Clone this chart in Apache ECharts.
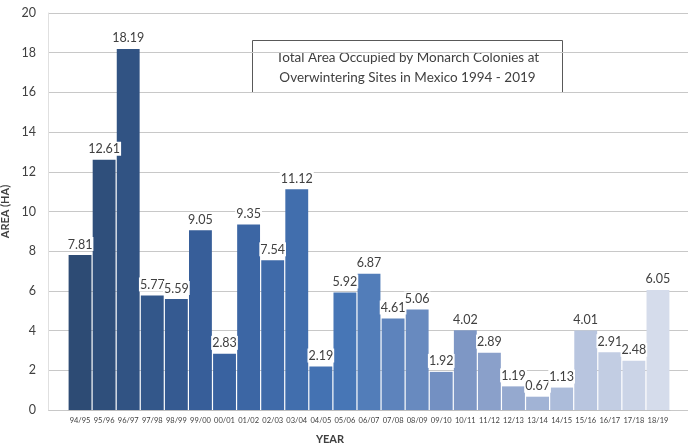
<!DOCTYPE html>
<html><head><meta charset="utf-8">
<script src="https://cdn.jsdelivr.net/npm/echarts@6/dist/echarts.min.js"></script>
<style>html,body{margin:0;padding:0;background:#fff}#c{width:690px;height:445px}</style>
</head><body><div id="c"></div>
<script>
var categories = ['94/95','95/96','96/97','97/98','98/99','99/00','00/01','01/02','02/03','03/04','04/05','05/06','06/07','07/08','08/09','09/10','10/11','11/12','12/13','13/14','14/15','15/16','16/17','17/18','18/19'];
var areaHa = [7.81,12.61,18.19,5.77,5.59,9.05,2.83,9.35,7.54,11.12,2.19,5.92,6.87,4.61,5.06,1.92,4.02,2.89,1.19,0.67,1.13,4.01,2.91,2.48,6.05];
var yTicks = [0,2,4,6,8,10,12,14,16,18,20];
var titleLines = ['Total Area Occupied by Monarch Colonies at','Overwintering Sites in Mexico 1994 - 2019'];

var stops = [[0,'#2D4B74'],[6,'#3962A0'],[11,'#4776B6'],[16,'#7E97C5'],[21,'#B8C5DF'],[24,'#D5DCEB']];
function hex(h){return [parseInt(h.substr(1,2),16),parseInt(h.substr(3,2),16),parseInt(h.substr(5,2),16)];}
function colorAt(i){
  for(var k=0;k<stops.length-1;k++){
    var a=stops[k],b=stops[k+1];
    if(i>=a[0]&&i<=b[0]){
      var t=(i-a[0])/(b[0]-a[0]),ca=hex(a[1]),cb=hex(b[1]);
      return 'rgb('+ca.map(function(v,j){return Math.round(v+(cb[j]-v)*t);}).join(',')+')';
    }
  }
  return stops[stops.length-1][1];
}
var font = 'Lato, "Liberation Sans", sans-serif';
var chart = echarts.init(document.getElementById('c'));
chart.setOption({
  animation:false,
  textStyle:{fontFamily:font},
  grid:[
    {left:48,right:2,top:13,bottom:35,outerBoundsMode:'none',containLabel:false},
    {left:68,right:20,top:13,bottom:35,outerBoundsMode:'none',containLabel:false}
  ],
  xAxis:[
    {gridIndex:0,type:'category',data:categories,show:false},
    {gridIndex:1,type:'category',data:categories,
     axisLine:{show:true,lineStyle:{color:'#bfbfbf'}},axisTick:{show:false},
     axisLabel:{interval:0,fontSize:7.5,color:'#404040',margin:7,fontFamily:font},
     name:'YEAR',nameLocation:'middle',nameGap:24,
     nameTextStyle:{fontWeight:'bold',fontSize:11,color:'#404040',padding:[0,0,0,-78]}}
  ],
  yAxis:[
    {gridIndex:0,type:'value',min:yTicks[0],max:yTicks[yTicks.length-1],interval:2,
     axisLine:{show:true,lineStyle:{color:'#e0e0e0'}},axisTick:{show:false},
     axisLabel:{fontSize:12.5,color:'#404040',margin:12,fontFamily:font},
     splitLine:{lineStyle:{color:'#c8c8c8'}},
     name:'AREA (HA)',nameLocation:'middle',nameGap:24,nameRotate:90,
     nameTextStyle:{fontWeight:'bold',fontSize:11,color:'#404040'}},
    {gridIndex:1,type:'value',min:yTicks[0],max:yTicks[yTicks.length-1],interval:2,show:false,splitLine:{show:false}}
  ],
  series:[{
    type:'bar',xAxisIndex:1,yAxisIndex:1,
    barCategoryGap:'5%',
    data:areaHa.map(function(v,i){return {value:v,itemStyle:{color:colorAt(i)}};}),
    label:{show:true,position:'top',distance:4,fontSize:12.5,color:'#404040',fontFamily:font,
      backgroundColor:'#fff',padding:[1,1,0,1],
      formatter:function(p){return p.value.toFixed(2);}}
  }],
  graphic:[{
    type:'group',left:252,top:40,
    children:[
      {type:'rect',shape:{x:0,y:0,width:310,height:52},style:{fill:'#fff',stroke:'#595959',lineWidth:1}},
      {type:'text',style:{x:155,y:17,text:titleLines[0],align:'center',verticalAlign:'middle',font:'13.5px '+font,fill:'#404040'}},
      {type:'text',style:{x:155,y:37,text:titleLines[1],align:'center',verticalAlign:'middle',font:'13.5px '+font,fill:'#404040'}}
    ]
  }]
});
</script></body></html>
